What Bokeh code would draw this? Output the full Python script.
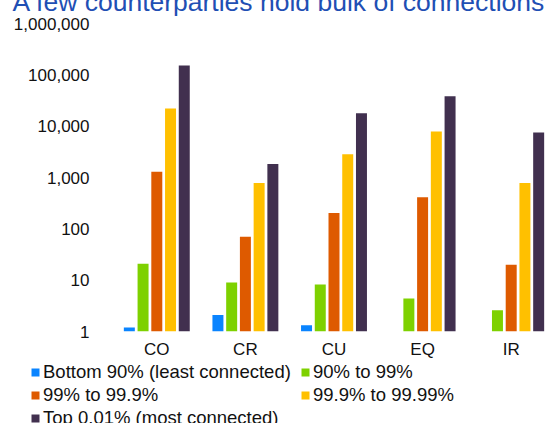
from bokeh.plotting import figure
from bokeh.models import (ColumnDataSource, FactorRange, FixedTicker, NumeralTickFormatter,
                          Legend, LegendItem)
from bokeh.transform import dodge
from bokeh.embed import file_html
from bokeh.resources import INLINE

nan = float("nan")

categories = ["CO", "CR", "CU", "EQ", "IR"]
series_names = ["Bottom 90% (least connected)", "90% to 99%", "99% to 99.9%",
                "99.9% to 99.99%", "Top 0.01% (most connected)"]
bottom90 = [1.2, 2.1, 1.33, nan, nan]
p90_99 = [21, 9, 8.2, 4.4, 2.6]
p99_999 = [1300, 70, 204, 413, 20]
p999_9999 = [22000, 780, 2850, 7900, 780]
top001 = [152000, 1830, 17900, 38300, 7550]
colors = ["#0A84FF", "#7ED100", "#DE5A00", "#FFC000", "#41304F"]
y_ticks = [1, 10, 100, 1000, 10000, 100000, 1000000]

FONT = "Liberation Sans"

source = ColumnDataSource(dict(cat=categories, s0=bottom90, s1=p90_99, s2=p99_999,
                               s3=p999_9999, s4=top001, base=[1] * len(categories)))

p = figure(x_range=FactorRange(*categories), y_axis_type="log", y_range=(1, 1000000),
           width=556, frame_height=308, output_backend="svg", toolbar_location=None,
           min_border_left=112, min_border_right=1, min_border_bottom=30, min_border_top=0,
           title="A few counterparties hold bulk of connections")
p.styles = {"margin-top": "-23px"}

p.title.text_font = FONT
p.title.text_font_size = "26.5px"
p.title.text_font_style = "normal"
p.title.text_color = "#1F4FB4"
p.title.align = "left"
p.title.offset = -100
p.title.standoff = 14

offsets = [-0.31, -0.155, 0.0, 0.155, 0.31]
for i, col in enumerate(colors):
    p.vbar(x=dodge("cat", offsets[i], range=p.x_range), top="s%d" % i, bottom="base",
           width=0.124, source=source, fill_color=col, line_color=None)

p.outline_line_color = None
p.grid.grid_line_color = None
p.background_fill_color = None
p.border_fill_color = "white"

p.yaxis.ticker = FixedTicker(ticks=y_ticks, minor_ticks=[])
p.yaxis.formatter = NumeralTickFormatter(format="0,0")
for ax in (p.xaxis, p.yaxis):
    ax.axis_line_color = None
    ax.major_tick_line_color = None
    ax.minor_tick_line_color = None
    ax.major_label_text_font = FONT
    ax.major_label_text_font_size = "17px"
    ax.major_label_text_color = "#111111"
p.yaxis.major_label_standoff = 17
p.xaxis.major_label_standoff = 2

# legend-only figure below the chart (its swatches sit outside its visible ranges)
pl = figure(width=556, height=70, output_backend="svg", toolbar_location=None,
            min_border=0, x_range=(0, 1), y_range=(0, 1),
            x_axis_location=None, y_axis_location=None)
pl.styles = {"margin-bottom": "-20px"}
pl.grid.visible = False
pl.outline_line_color = None
pl.background_fill_color = None
swatch = {}
for name, col in zip(series_names, colors):
    swatch[name] = pl.vbar(x=[5], top=[5], bottom=[4], width=0.1,
                           fill_color=col, line_color=None)


def make_legend(names, loc):
    lg = Legend(items=[LegendItem(label=n, renderers=[swatch[n]]) for n in names],
                orientation="vertical", location=loc)
    lg.label_text_font = FONT
    lg.label_text_font_size = "18.5px"
    lg.label_text_color = "#111111"
    lg.glyph_width = 10
    lg.glyph_height = 10
    lg.label_standoff = 3
    lg.label_height = 20
    lg.spacing = 1
    lg.padding = 0
    lg.margin = 0
    lg.border_line_color = None
    lg.background_fill_alpha = 0
    return lg


pl.add_layout(make_legend([series_names[0], series_names[2], series_names[4]], (30, 2)), "center")
pl.add_layout(make_legend([series_names[1], series_names[3]], (300, 25)), "center")

open("out.html", "w").write(file_html([p, pl], INLINE))
